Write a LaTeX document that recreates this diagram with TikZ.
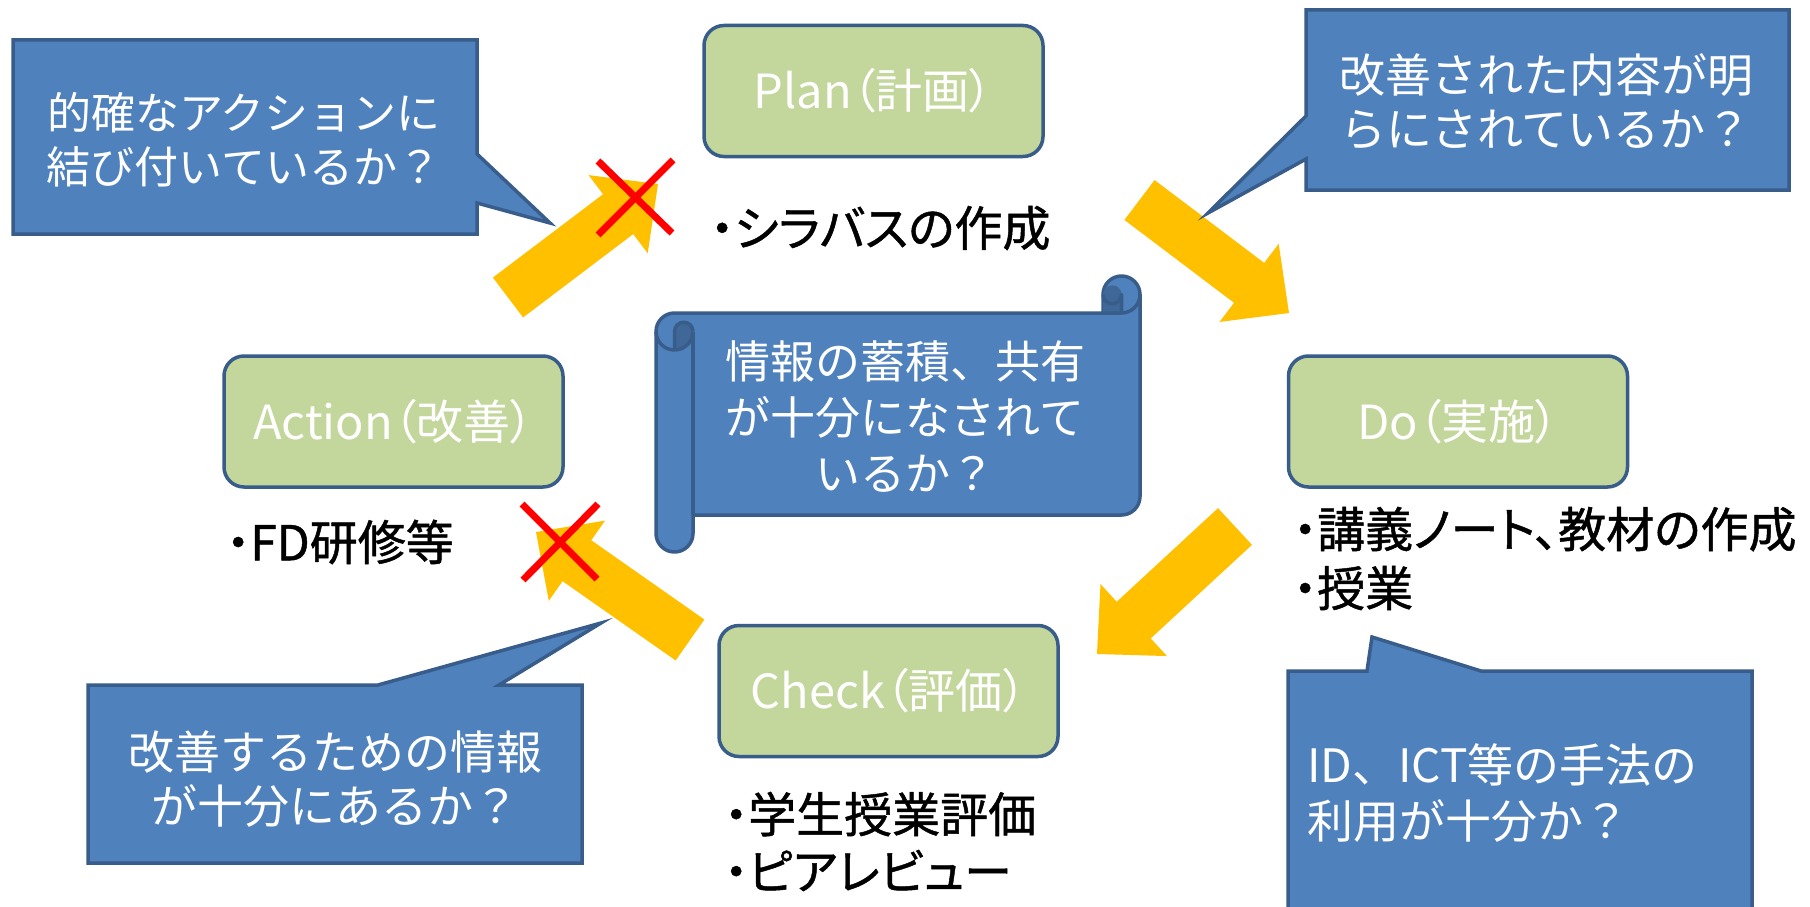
\documentclass[tikz,border=0pt]{standalone}
\usepackage{fontspec}
\setmainfont{Noto Sans CJK JP}
\newfontfamily\jp{Noto Sans CJK JP}
\newfontfamily\jpp[RawFeature=+palt]{Noto Sans CJK JP}
\newfontfamily\jpb[RawFeature=+palt,FakeBold=1]{Noto Sans CJK JP}
\usetikzlibrary{calc}

\definecolor{cblue}{HTML}{4F81BD}
\definecolor{cedge}{HTML}{385D8A}
\definecolor{cdark}{HTML}{3F6797}
\definecolor{cgreen}{HTML}{C3D69B}
\definecolor{cyellow}{HTML}{FFC000}
\definecolor{cred}{HTML}{FF0000}

\tikzset{
 greenbox/.style={draw=cedge, line width=3.5pt, fill=cgreen, rounded corners=20pt,
   minimum width=339pt, minimum height=131pt, inner sep=0pt, text=white,
   font=\jpp\fontsize{47}{56}\selectfont},
 calloutshape/.style={draw=cedge, line width=3.5pt, fill=cblue, line join=miter},
 scrollshape/.style={draw=cedge, line width=3.5pt, fill=cblue, line join=round},
 scrollline/.style={draw=cedge, line width=3.5pt, line join=round},
 callouttext/.style={text=white, align=center, inner sep=0pt, font=\jp\fontsize{46}{54}\selectfont},
 bullettext/.style={text=black, align=left, anchor=west, inner sep=0pt},
 yarrow/.style={fill=cyellow},
 redx/.style={draw=cred, line width=7pt},
}

\newcommand\blockarrow[2]{%
 \coordinate (#1h) at ($(#2)!50pt!(#1)$);
 \fill[yarrow] ($(#1)!25pt!90:(#2)$) -- ($(#1h)!25pt!90:(#2)$) -- ($(#1h)!49pt!90:(#2)$)
   -- (#2) -- ($(#1h)!49pt!-90:(#2)$) -- ($(#1h)!25pt!-90:(#2)$) -- ($(#1)!25pt!-90:(#2)$) -- cycle;
}

\begin{document}
\begin{tikzpicture}[x=1pt,y=-1pt]
\clip (0,0) rectangle (1810,907);
\fill[white] (0,0) rectangle (1810,907);

% ---------- PDCA boxes ----------
\node[greenbox] (plan)   at (873.5,91)  {Plan（計画）};
\node[greenbox] (action) at (393.5,421.5) {Action（改善）};
\node[greenbox] (do)     at (1458,421.5) {Do（実施）};
\node[greenbox] (check)  at (888.5,691) {Check（評価）};

% ---------- bullet texts ----------
\node[bullettext, font=\jpb\fontsize{48}{58}\selectfont] (plantxt) at (710,228) {・シラバスの作成};
\node[bullettext, font=\jpb\fontsize{48}{58}\selectfont] (acttxt) at (226,542) {・FD研修等};
\node[bullettext, font=\jpb\fontsize{48}{59}\selectfont] (dotxt) at (1293,558.5) {・講義ノート、教材の作成\\・授業};
\node[bullettext, font=\jpb\fontsize{48}{57}\selectfont] (chktxt) at (724,841.5) {・学生授業評価\\・ピアレビュー};

% ---------- yellow block arrows ----------
\coordinate (a1t) at (508,297.5);  \coordinate (a1p) at (658,184);
\coordinate (a2t) at (1139.5,200); \coordinate (a2p) at (1289,313);
\coordinate (a3t) at (1235,526.5); \coordinate (a3p) at (1097,654);
\coordinate (a4t) at (690,640);    \coordinate (a4p) at (536,532);
\blockarrow{a1t}{a1p}
\blockarrow{a2t}{a2p}
\blockarrow{a3t}{a3p}
\blockarrow{a4t}{a4p}

% ---------- red crosses ----------
\draw[redx] (598,161) -- (672,233);
\draw[redx] (673,160) -- (598,235);
\draw[redx] (522,504) -- (597,579);
\draw[redx] (598,504) -- (523,580);

% ---------- callouts ----------
\draw[calloutshape] (13,40) -- (477,40) -- (477,154) -- (550,223) -- (477,203) -- (477,234) -- (13,234) -- cycle;
\node[callouttext, font=\jp\fontsize{44}{54}\selectfont] (tlq) at (244,140) {的確なアクションに\\結び付いているか？};

\draw[calloutshape] (1306,10) -- (1789,10) -- (1789,190) -- (1306,190) -- (1306,159) -- (1208,213) -- (1306,116) -- cycle;
\node[callouttext] (trq) at (1546,102) {改善された内容が明\\らにされているか？};

\draw[calloutshape] (88,685) -- (378,685) -- (601,623) -- (499,685) -- (582,685) -- (582,863) -- (88,863) -- cycle;
\node[callouttext] (blq) at (335,779.5) {改善するための情報\\が十分にあるか？};

\draw[calloutshape] (1288,671) -- (1367,671) -- (1372,637) -- (1481,671) -- (1752,671) -- (1752,940) -- (1288,940) -- cycle;
\node[callouttext, align=left, anchor=west, font=\jp\fontsize{46}{56}\selectfont] (brq) at (1307,793) {ID、ICT等の手法の\\利用が十分か？};

% ---------- scroll ----------
\draw[scrollshape] (656,331.5)
  .. controls (656,321.3) and (664.3,313) .. (674.5,313)
  -- (1103,313) -- (1103,294.5)
  .. controls (1103,284.3) and (1111.3,276) .. (1121.5,276)
  .. controls (1131.7,276) and (1140,284.3) .. (1140,294.5)
  -- (1140,496.5)
  .. controls (1140,506.7) and (1131.7,515) .. (1121.5,515)
  -- (693,515) -- (693,533.5)
  .. controls (693,543.7) and (684.7,552) .. (674.5,552)
  .. controls (664.3,552) and (656,543.7) .. (656,533.5)
  -- cycle;
% left curl
\fill[cdark] (674.5,331.5)
  .. controls (674.5,326.4) and (678.6,322.25) .. (683.75,322.25)
  .. controls (688.9,322.25) and (693,326.4) .. (693,331.5)
  .. controls (693,341.7) and (684.7,350) .. (674.5,350) -- cycle;
\draw[scrollline] (693,331.5) -- (693,515);
\draw[scrollline] (693,331.5) .. controls (693,341.7) and (684.7,350) .. (674.5,350)
  .. controls (664.3,350) and (656,341.7) .. (656,331.5);
\draw[scrollline] (674.5,350) -- (674.5,331.5)
  .. controls (674.5,326.4) and (678.6,322.25) .. (683.75,322.25)
  .. controls (688.9,322.25) and (693,326.4) .. (693,331.5);
% right curl
\fill[cdark] (1103,294.5)
  .. controls (1103,289.4) and (1107.1,285.25) .. (1112.25,285.25)
  .. controls (1117.4,285.25) and (1121.5,289.4) .. (1121.5,294.5)
  -- (1121.5,313) -- (1103,313) -- cycle;
\draw[scrollline] (1103,313) -- (1121.5,313) -- (1121.5,294.5)
  .. controls (1121.5,299.6) and (1117.4,303.75) .. (1112.25,303.75)
  .. controls (1107.1,303.75) and (1103,299.6) .. (1103,294.5);
\draw[scrollline] (1121.5,313) .. controls (1131.7,313) and (1140,304.7) .. (1140,294.5);
\node[callouttext, font=\jp\fontsize{45}{56}\selectfont] (scq) at (905,417) {情報の蓄積、共有\\が十分になされて\\いるか？};

\end{tikzpicture}
\end{document}
